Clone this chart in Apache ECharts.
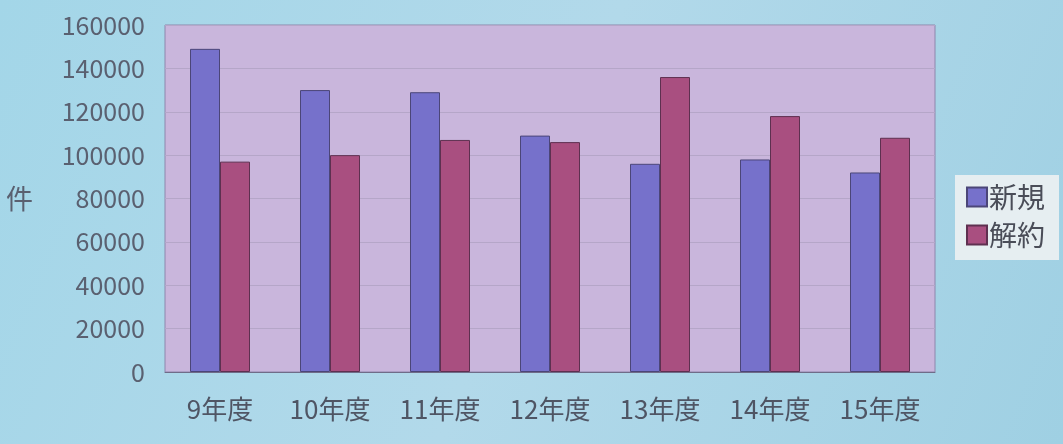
<!DOCTYPE html>
<html>
<head>
<meta charset="utf-8">
<script src="https://cdn.jsdelivr.net/npm/echarts@6/dist/echarts.min.js"></script>
<style>
html,body{margin:0;padding:0;}
#c{width:1063px;height:444px;}
</style>
</head>
<body>
<div id="c"></div>
<script>
const categories = ['9年度','10年度','11年度','12年度','13年度','14年度','15年度'];
const seriesNames = ['新規','解約'];
const shinki = [149000, 130000, 129000, 109000, 96000, 98000, 92000];
const kaiyaku = [97000, 100000, 107000, 106000, 136000, 118000, 108000];
const yTicks = [0, 20000, 40000, 60000, 80000, 100000, 120000, 140000, 160000];

const chart = echarts.init(document.getElementById('c'), null, {renderer:'canvas'});
chart.setOption({
  backgroundColor: {
    type:'linear', x:0, y:0, x2:1, y2:1,
    colorStops:[{offset:0,color:'#a3d6e8'},{offset:0.5,color:'#b2d9ea'},{offset:1,color:'#9fd0e3'}]
  },
  animation:false,
  textStyle:{fontFamily:'"Noto Sans CJK JP", "Noto Sans", sans-serif'},
  grid:{
    left:165, right:128, top:25, bottom:72,
    show:true, backgroundColor:'#c9b6dc', borderColor:'#8d86ac', borderWidth:1
  },
  legend:{
    data:seriesNames,
    orient:'vertical', left:955, top:175,
    itemWidth:20, itemHeight:19, itemGap:10,
    padding:[8,14,11,11],
    backgroundColor:'#e6eef1',
    icon:'rect',
    textStyle:{fontSize:28, color:'#4a4d58', padding:[0,0,0,-3]}
  },
  xAxis:{
    type:'category', data:categories,
    axisLine:{show:true, lineStyle:{color:'#6f6c88'}},
    axisTick:{show:false},
    axisLabel:{fontSize:26, color:'#4f5564', margin:24}
  },
  yAxis:{
    type:'value', min:yTicks[0], max:yTicks[yTicks.length-1], interval:20000,
    name:'件', nameLocation:'middle', nameRotate:0, nameGap:132,
    nameTextStyle:{fontSize:27, color:'#5a6070'},
    axisLine:{show:false}, axisTick:{show:false},
    axisLabel:{fontSize:25, color:'#5a6070', margin:20, formatter:function(v){return String(v);}},
    splitLine:{lineStyle:{color:'#b5a6c8', width:1}}
  },
  series:[
    {name:seriesNames[0], type:'bar', data:shinki, barWidth:30, barGap:'0%', barCategoryGap:'45%',
     itemStyle:{color:'#7671cb', borderColor:'#4b4678', borderWidth:1}},
    {name:seriesNames[1], type:'bar', data:kaiyaku, barWidth:30,
     itemStyle:{color:'#a94f80', borderColor:'#5e3050', borderWidth:1}}
  ]
});
</script>
</body>
</html>
